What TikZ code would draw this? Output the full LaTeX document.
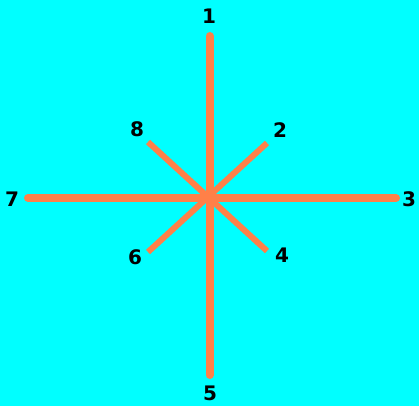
\documentclass[tikz,border=0pt]{standalone}
\usepackage{fontspec}
\setmainfont{DejaVu Sans}
\definecolor{bgcyan}{RGB}{0,255,255}
\definecolor{raycoral}{RGB}{255,128,72}
\tikzset{
	axisray/.style={draw=raycoral, line width=8pt, line cap=round},
	diagray/.style={draw=raycoral, line width=6pt},
	numlabel/.style={font=\fontsize{20}{20}\selectfont\bfseries, inner sep=0pt}
}

\begin{document}
\begin{tikzpicture}[x=1pt, y=-1pt]
	\fill[bgcyan] (0,0) rectangle (419,406);
	\useasboundingbox (0,0) rectangle (419,406);
	\coordinate (c) at (209.5,198);
	% ray ends
	\coordinate (e1) at (209.5,36);
	\coordinate (e2) at (267,143);
	\coordinate (e3) at (396,198);
	\coordinate (e4) at (267,251);
	\coordinate (e5) at (209.5,375);
	\coordinate (e6) at (148,252);
	\coordinate (e7) at (28,198);
	\coordinate (e8) at (148,142);
	% labels
	\node[numlabel] (l1) at (209,16) {1};
	\node[numlabel] (l2) at (280,130) {2};
	\node[numlabel] (l3) at (409,199) {3};
	\node[numlabel] (l4) at (282,255) {4};
	\node[numlabel] (l5) at (210,393) {5};
	\node[numlabel] (l6) at (135,257) {6};
	\node[numlabel] (l7) at (12,199) {7};
	\node[numlabel] (l8) at (137,129) {8};
	% rays
	\draw[diagray] (e8) -- (e4);
	\draw[diagray] (e2) -- (e6);
	\draw[axisray] (e1) -- (e5);
	\draw[axisray] (e7) -- (e3);
\end{tikzpicture}
\end{document}
